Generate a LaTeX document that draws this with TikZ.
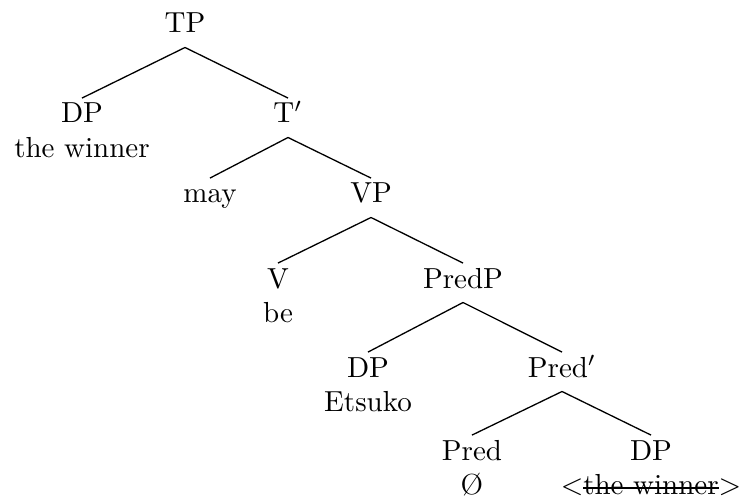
\documentclass[tikz,border=0pt]{standalone}
\newcommand\mystrike[1]{\setbox0\hbox{#1}\rlap{\rule[0.5ex]{\wd0}{0.45pt}}\box0}
\tikzset{
  lab/.style={anchor=base, inner sep=0pt},
  word/.style={anchor=base, inner sep=0pt},
  br/.style={line width=0.45pt}
}
\begin{document}
\begin{tikzpicture}[x=0.345pt, y=-0.345pt]
\useasboundingbox (0,0) rectangle (742,499);
% category labels (placed at baseline)
\node[lab] (tp)    at (185,33)  {TP};
\node[lab] (dp1)   at (82,123)  {DP};
\node[lab] (tbar)  at (288,123) {T$'$};
\node[lab] (may)   at (210,203) {may};
\node[lab] (vp)    at (371,203) {VP};
\node[lab] (v)     at (278,288) {V};
\node[lab] (predp) at (463,288) {PredP};
\node[lab] (dp2)   at (368,377) {DP};
\node[lab] (predb) at (562,377) {Pred$'$};
\node[lab] (pred)  at (472,460) {Pred};
\node[lab] (dp3)   at (651,460) {DP};
% words under labels
\node[word] (w1) at ([yshift=-12pt]dp1.base)  {the winner};
\node[word] (w2) at ([yshift=-12pt]v.base)    {be};
\node[word] (w3) at ([yshift=-12pt]dp2.base)  {Etsuko};
\node[word] (w4) at ([yshift=-12pt]pred.base) {\O};
\node[word] (w5) at ([yshift=-12pt]dp3.base)  {$<$\mystrike{the winner}$>$};
% branches
\foreach \p/\c in {tp/dp1, tp/tbar, tbar/may, tbar/vp, vp/v, vp/predp,
                   predp/dp2, predp/predb, predb/pred, predb/dp3}
  \draw[br] ([yshift=-5pt]\p.base) -- ([yshift=8.6pt]\c.base);
\end{tikzpicture}
\end{document}
